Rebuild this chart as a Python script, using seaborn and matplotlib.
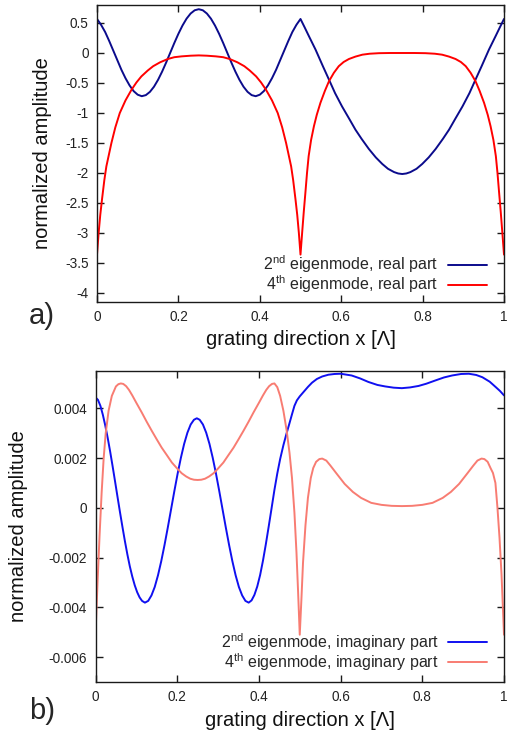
import numpy as np
import pandas as pd
import matplotlib
matplotlib.use("Agg")
import matplotlib.pyplot as plt
import seaborn as sns

# ---------------- data ----------------
# (a) real parts
x_re2 = [0, 0.01, 0.02, 0.03, 0.04, 0.05, 0.06, 0.07, 0.08, 0.09, 0.10, 0.11, 0.12, 0.13,
         0.14, 0.15, 0.16, 0.17, 0.18, 0.19, 0.20, 0.21, 0.22, 0.23, 0.24, 0.25, 0.26,
         0.27, 0.28, 0.29, 0.30, 0.31, 0.32, 0.33, 0.34, 0.35, 0.36, 0.37, 0.38, 0.39,
         0.40, 0.41, 0.42, 0.43, 0.44, 0.45, 0.46, 0.47, 0.48, 0.49, 0.5, 0.51, 0.52,
         0.537, 0.555, 0.57, 0.585, 0.602, 0.62, 0.635, 0.65, 0.668, 0.685, 0.701, 0.715,
         0.73, 0.74, 0.75, 0.76, 0.77, 0.785, 0.799, 0.815, 0.832, 0.85, 0.865, 0.88,
         0.898, 0.915, 0.93, 0.945, 0.963, 0.98, 0.99, 1.0]
y_re2 = [0.567, 0.47, 0.35, 0.20, 0.04, -0.12, -0.28, -0.42, -0.54, -0.635, -0.695, -0.72,
         -0.702, -0.648, -0.562, -0.447, -0.31, -0.157, 0.005, 0.167, 0.32, 0.457, 0.572,
         0.658, 0.712, 0.73, 0.712, 0.658, 0.572, 0.457, 0.32, 0.167, 0.005, -0.157, -0.31,
         -0.447, -0.562, -0.648, -0.702, -0.72, -0.695, -0.635, -0.54, -0.42, -0.28, -0.12,
         0.04, 0.20, 0.35, 0.47, 0.567, 0.43, 0.29, 0.056, -0.22, -0.444, -0.67, -0.89,
         -1.10, -1.278, -1.43, -1.60, -1.74, -1.85, -1.93, -1.985, -2.008, -2.017, -2.008,
         -1.985, -1.93, -1.85, -1.74, -1.60, -1.43, -1.278, -1.10, -0.89, -0.67, -0.444,
         -0.22, 0.056, 0.29, 0.43, 0.567]

x_re4 = [0, 0.004, 0.008, 0.0123, 0.018, 0.023, 0.0354, 0.045, 0.056, 0.07, 0.085, 0.097,
         0.109, 0.125, 0.138, 0.155, 0.174, 0.19, 0.208, 0.23, 0.25, 0.27, 0.292, 0.31,
         0.326, 0.345, 0.362, 0.375, 0.391, 0.403, 0.415, 0.43, 0.444, 0.455, 0.4646,
         0.477, 0.482, 0.4877, 0.492, 0.496, 0.5, 0.504, 0.508, 0.512, 0.516, 0.52, 0.526,
         0.533, 0.54, 0.549, 0.56, 0.57, 0.582, 0.594, 0.606, 0.619, 0.635, 0.652, 0.67,
         0.693, 0.72, 0.75, 0.78, 0.807, 0.83, 0.848, 0.865, 0.881, 0.894, 0.906, 0.918,
         0.93, 0.94, 0.951, 0.96, 0.967, 0.974, 0.98, 0.984, 0.988, 0.992, 0.996, 1.0]
y_re4 = [-3.36, -3.0, -2.7, -2.44, -2.12, -1.89, -1.5, -1.24, -1.0, -0.79, -0.61, -0.49,
         -0.39, -0.29, -0.22, -0.155, -0.10, -0.07, -0.056, -0.045, -0.04, -0.045, -0.056,
         -0.07, -0.10, -0.155, -0.22, -0.29, -0.39, -0.49, -0.61, -0.79, -1.0, -1.24, -1.5,
         -1.89, -2.12, -2.44, -2.7, -3.0, -3.36, -3.0, -2.65, -2.33, -2.0, -1.72, -1.45,
         -1.22, -1.03, -0.83, -0.63, -0.47, -0.33, -0.22, -0.15, -0.10, -0.06, -0.028,
         -0.012, -0.003, 0.0, 0.0, 0.0, -0.003, -0.012, -0.028, -0.06, -0.10, -0.15, -0.22,
         -0.33, -0.47, -0.63, -0.83, -1.03, -1.22, -1.45, -1.72, -2.0, -2.33, -2.65, -3.0,
         -3.36]

# (b) imaginary parts
x_im2 = [0, 0.006, 0.012, 0.018, 0.024, 0.030, 0.036, 0.042, 0.048, 0.054, 0.060, 0.066,
         0.072, 0.078, 0.084, 0.090, 0.096, 0.102, 0.108, 0.114, 0.121, 0.129, 0.137,
         0.145, 0.153, 0.161, 0.169, 0.177, 0.185, 0.193, 0.201, 0.209, 0.217, 0.225,
         0.233, 0.241, 0.248, 0.255, 0.263, 0.271, 0.279, 0.287, 0.295, 0.303, 0.311,
         0.319, 0.327, 0.335, 0.343, 0.351, 0.359, 0.367, 0.375, 0.382, 0.389, 0.396,
         0.403, 0.41, 0.417, 0.424, 0.431, 0.438, 0.445, 0.452, 0.46, 0.467, 0.474, 0.481,
         0.487, 0.493, 0.5, 0.51, 0.52, 0.53, 0.542, 0.555, 0.57, 0.585, 0.6, 0.627, 0.648,
         0.668, 0.69, 0.709, 0.73, 0.75, 0.77, 0.791, 0.81, 0.832, 0.853, 0.873, 0.895,
         0.914, 0.932, 0.947, 0.965, 0.98, 0.99, 1.0]
y_im2 = [0.00444, 0.00434, 0.0041, 0.00374, 0.0033, 0.0028, 0.00225, 0.00166, 0.00105,
         0.00043, -0.00018, -0.00077, -0.00134, -0.00187, -0.00235, -0.00276, -0.00311,
         -0.00339, -0.0036, -0.00374, -0.00381, -0.00374, -0.00352, -0.00318, -0.00271,
         -0.00214, -0.00149, -0.00079, -0.00006, 0.00067, 0.00137, 0.00201, 0.00257,
         0.00302, 0.00335, 0.00354, 0.0036, 0.00354, 0.00335, 0.00302, 0.00257, 0.00201,
         0.00137, 0.00067, -0.00006, -0.00079, -0.00149, -0.00214, -0.00271, -0.00318,
         -0.00352, -0.00374, -0.00381, -0.00372, -0.0035, -0.00316, -0.0027, -0.00212,
         -0.00146, -0.00075, -0.00002, 0.00072, 0.00138, 0.00196, 0.00252, 0.00295,
         0.00335, 0.00376, 0.0041, 0.00432, 0.00448, 0.00467, 0.00486, 0.00503, 0.00518,
         0.00528, 0.00535, 0.00538, 0.00539, 0.00532, 0.0052, 0.00506, 0.00494, 0.00488,
         0.00483, 0.00481, 0.00484, 0.0049, 0.00499, 0.00512, 0.00524, 0.00532, 0.00538,
         0.00539, 0.00534, 0.00525, 0.00507, 0.00485, 0.0047, 0.00452]

x_im4 = [0, 0.005, 0.01, 0.015, 0.02, 0.025, 0.032, 0.04, 0.05, 0.056, 0.062, 0.068, 0.075,
         0.082, 0.09, 0.1, 0.113, 0.125, 0.1376, 0.15, 0.162, 0.175, 0.187, 0.2, 0.211,
         0.222, 0.232, 0.241, 0.25, 0.259, 0.268, 0.278, 0.289, 0.3, 0.313, 0.325, 0.338,
         0.35, 0.3624, 0.375, 0.387, 0.4, 0.41, 0.418, 0.425, 0.432, 0.438, 0.445, 0.452,
         0.46, 0.468, 0.475, 0.481, 0.487, 0.492, 0.496, 0.5, 0.504, 0.508, 0.514, 0.52,
         0.527, 0.533, 0.54, 0.548, 0.555, 0.565, 0.575, 0.59, 0.61, 0.63, 0.65, 0.675, 0.7,
         0.725, 0.75, 0.775, 0.8, 0.825, 0.85, 0.87, 0.89, 0.91, 0.925, 0.935, 0.945,
         0.952, 0.96, 0.967, 0.973, 0.979, 0.984, 0.989, 0.994, 1.0]
y_im4 = [-0.0051, -0.003, -0.0011, 0.0006, 0.002, 0.003, 0.0039, 0.0045, 0.00488, 0.00497,
         0.005, 0.00498, 0.00489, 0.00474, 0.00452, 0.00422, 0.00384, 0.00347, 0.0031,
         0.00275, 0.00242, 0.00211, 0.00182, 0.00158, 0.00139, 0.00126, 0.00117, 0.00113,
         0.00112, 0.00113, 0.00117, 0.00126, 0.00139, 0.00158, 0.00182, 0.00211, 0.00242,
         0.00275, 0.0031, 0.00347, 0.00384, 0.00422, 0.00452, 0.00474, 0.00489, 0.00498,
         0.005, 0.00485, 0.0045, 0.0039, 0.0031, 0.0022, 0.0012, -0.0002, -0.0018, -0.0034,
         -0.0051, -0.0037, -0.0022, -0.0007, 0.0004, 0.0012, 0.0016, 0.00185, 0.00196,
         0.00198, 0.0019, 0.0017, 0.00138, 0.00096, 0.00064, 0.0004, 0.0002, 0.00012,
         0.00008, 0.00007, 0.00008, 0.00012, 0.0002, 0.0004, 0.00064, 0.00096, 0.00138,
         0.0017, 0.0019, 0.00198, 0.00196, 0.00185, 0.0016, 0.0014, 0.001, 0.0, -0.0012,
         -0.0027, -0.0051]

xticks = [0, 0.2, 0.4, 0.6, 0.8, 1]
xticklabels = ["0", "0.2", "0.4", "0.6", "0.8", "1"]
yticks_a = [0.5, 0, -0.5, -1, -1.5, -2, -2.5, -3, -3.5, -4]
yticklabels_a = ["0.5", "0", "-0.5", "-1", "-1.5", "-2", "-2.5", "-3", "-3.5", "-4"]
yticks_b = [0.004, 0.002, 0, -0.002, -0.004, -0.006]
yticklabels_b = ["0.004", "0.002", "0", "-0.002", "-0.004", "-0.006"]

label_re2 = "2$^{\\rm nd}$ eigenmode, real part"
label_re4 = "4$^{\\rm th}$ eigenmode, real part"
label_im2 = "2$^{\\rm nd}$ eigenmode, imaginary part"
label_im4 = "4$^{\\rm th}$ eigenmode, imaginary part"

# ---------------- style ----------------
sns.set_theme(style="ticks")
plt.rcParams["font.family"] = ["Liberation Sans", "DejaVu Sans"]
plt.rcParams["mathtext.fontset"] = "custom"
plt.rcParams["mathtext.rm"] = "Liberation Sans"
plt.rcParams["mathtext.it"] = "Liberation Sans:italic"
plt.rcParams["axes.linewidth"] = 1.0
plt.rcParams["axes.edgecolor"] = "#1a1a1a"

W, H = 507, 734
fig = plt.figure(figsize=(W / 100, H / 100), dpi=100)
ax_a = fig.add_axes([97 / W, (H - 302) / H, 407 / W, 297 / H])
ax_b = fig.add_axes([95.5 / W, (H - 682) / H, 408.5 / W, 311 / H])

lw = 1.4
sns.lineplot(x=x_re2, y=y_re2, ax=ax_a, color="#0b0b8c", lw=lw, label=label_re2, sort=False)
sns.lineplot(x=x_re4, y=y_re4, ax=ax_a, color="#ff0000", lw=lw, label=label_re4, sort=False)
sns.lineplot(x=x_im2, y=y_im2, ax=ax_b, color="#1010f0", lw=lw, label=label_im2, sort=False)
sns.lineplot(x=x_im4, y=y_im4, ax=ax_b, color="#f87c72", lw=lw, label=label_im4, sort=False)

ax_a.set_ylim(-4.15, 0.8)
ax_b.set_ylim(-0.007, 0.0055)

for ax, yt, ytl in ((ax_a, yticks_a, yticklabels_a), (ax_b, yticks_b, yticklabels_b)):
    ax.set_xlim(0, 1)
    ax.set_xticks(xticks)
    ax.set_xticklabels(xticklabels)
    ax.set_yticks(yt)
    ax.set_yticklabels(ytl)
    ax.tick_params(direction="in", length=5, width=1.0, top=True, right=True,
                   labelsize=9.8, pad=6, colors="#1a1a1a", labelcolor="#222222")
    ax.minorticks_off()
    for s in ax.spines.values():
        s.set_visible(True)
    ax.set_xlabel("grating direction x [Λ]", fontsize=14.5, color="#111111")
    ax.set_ylabel("normalized amplitude", fontsize=14.5, color="#111111")
    ax.xaxis.label.set_va("center")
    ax.yaxis.label.set_va("center")
    ax.xaxis.set_label_coords(0.5, -0.1246)

ax_a.yaxis.set_label_coords((43 - 97) / 407, 0.5)
ax_b.yaxis.set_label_coords((19 - 95.5) / 408.5, 0.5)
ax_b.xaxis.set_label_coords(0.5, -0.125)

leg_kw = dict(frameon=False, fontsize=11.5, markerfirst=False, handlelength=2.45,
              handletextpad=0.6, labelspacing=-0.1, borderpad=0, borderaxespad=0,
              loc="lower right")
ax_a.legend(bbox_to_anchor=((487 - 97) / 407, 0.022), **leg_kw)
ax_b.legend(bbox_to_anchor=((487.3 - 95.5) / 408.5, 0.03), **leg_kw)

fig.text(42 / W, 1 - 316 / H, "a)", fontsize=21, ha="center", va="center")
fig.text(42 / W, 1 - 711 / H, "b)", fontsize=21, ha="center", va="center")

fig.savefig("out.png", dpi=100)
